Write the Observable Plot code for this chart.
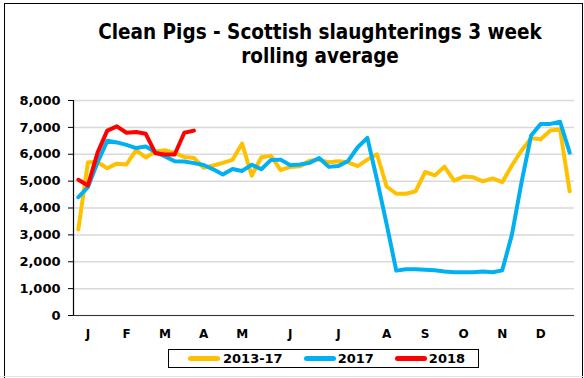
<!DOCTYPE html>
<html><head><meta charset="utf-8">
<script src="https://cdn.jsdelivr.net/npm/d3@7"></script>
<script src="https://cdn.jsdelivr.net/npm/@observablehq/plot@0.6"></script>
<style>
html,body{margin:0;padding:0;background:#fff;}
#wrap{position:relative;width:584px;height:378px;overflow:hidden;font-family:"DejaVu Sans",sans-serif;color:#000;}
#frame{position:absolute;left:4px;top:3px;width:579px;height:400px;border:1.5px solid #000;box-sizing:border-box;}
#bottomline{position:absolute;left:0;top:376px;width:584px;height:1px;background:#e4e4e4;}
#title{position:absolute;left:70px;top:20px;width:500px;text-align:center;font-family:"DejaVu Sans Condensed","DejaVu Sans",sans-serif;font-weight:bold;font-size:20.5px;line-height:24px;}
#chart{position:absolute;left:0;top:0;}
#legend{position:absolute;left:168px;top:349px;width:311px;height:19px;border:1px solid #000;box-sizing:border-box;display:flex;align-items:center;font-weight:bold;font-size:13px;}
.sw{display:inline-block;width:32px;height:5px;border-radius:3px;margin-right:2px;}
.it{display:flex;align-items:center;}
</style>
</head><body>
<div id="wrap">
  <div id="frame"></div>
  <div id="bottomline"></div>
  <div id="chart"></div>
  <div id="title">Clean Pigs - Scottish slaughterings 3 week<br>rolling average</div>
  <div id="legend"></div>
</div>
<script>
const seriesNames = ["2013-17", "2017", "2018"];
const seriesColors = ["#FFC000", "#00B0F0", "#FF0000"];
const avg2013to17 = [3200,5700,5700,5480,5650,5620,6150,5880,6100,6150,6040,5900,5860,5500,5580,5680,5790,6400,5200,5890,5940,5410,5530,5550,5760,5800,5700,5740,5700,5560,5800,6000,4800,4530,4530,4620,5340,5210,5540,5020,5170,5140,4990,5100,4960,5580,6140,6600,6560,6880,6920,4620];
const values2017 = [4400,4780,5700,6500,6440,6350,6230,6290,6080,5920,5740,5730,5670,5600,5440,5250,5450,5380,5610,5440,5790,5800,5590,5620,5680,5860,5530,5560,5750,6260,6610,5050,3400,1670,1720,1720,1700,1680,1640,1610,1610,1610,1640,1610,1680,3000,4950,6700,7130,7130,7210,6060];
const values2018 = [5050,4840,6060,6880,7040,6800,6830,6760,6040,5990,5990,6800,6880];
const monthTicks = [1,5,9,13,17,22,27,32,36,40,44,48];
const monthLabels = ["J","F","M","A","M","J","J","A","S","O","N","D"];
const yTicks = [0,1000,2000,3000,4000,5000,6000,7000,8000];
const xDomain = [-0.5, 51.5];
const yDomain = [0, 8000];

const seriesValues = [avg2013to17, values2017, values2018];
const tables = seriesValues.map((vals, s) => vals.map((v, i) => ({series: seriesNames[s], week: i, value: v})));

const chart = Plot.plot({
  width: 584,
  height: 345,
  marginLeft: 73,
  marginRight: 10,
  marginTop: 100,
  marginBottom: 30,
  x: {domain: xDomain},
  y: {domain: yDomain},
  style: {fontFamily: "DejaVu Sans", fontWeight: "bold", color: "#000", background: "transparent", overflow: "visible"},
  marks: [
    Plot.gridY(yTicks, {stroke: "#d9d9d9", strokeOpacity: 1, strokeWidth: 1.5}),
    Plot.axisY(yTicks, {tickSize: 5, tickPadding: 8, tickFormat: d3.format(","), fontSize: 13, fontWeight: "bold", label: null, stroke: "#000"}),
    Plot.axisX(monthTicks, {tickSize: 0, tickPadding: 14, tickFormat: d => monthLabels[monthTicks.indexOf(d)], fontSize: 12, fontWeight: "bold", label: null}),
    Plot.ruleX([xDomain[0]], {stroke: "#000", strokeWidth: 1.2}),
    Plot.ruleY([yDomain[0]], {stroke: "#333", strokeWidth: 1.2}),
    ...tables.map((t, s) => Plot.line(t, {x: "week", y: "value", stroke: seriesColors[s], strokeWidth: 4, strokeLinejoin: "round", strokeLinecap: "round"}))
  ]
});
document.getElementById("chart").appendChild(chart);

const legend = document.getElementById("legend");
const margins = [["19px","3px","21px"],["0","2px","21px"],["0","2px","0"]];
seriesNames.forEach((name, i) => {
  const it = document.createElement("div");
  it.className = "it";
  it.style.marginLeft = margins[i][0];
  it.style.marginRight = margins[i][2];
  const sw = document.createElement("span");
  sw.className = "sw";
  sw.style.background = seriesColors[i];
  sw.style.marginRight = margins[i][1];
  const tx = document.createElement("span");
  tx.textContent = name;
  it.appendChild(sw); it.appendChild(tx);
  legend.appendChild(it);
});
</script>
</body></html>
